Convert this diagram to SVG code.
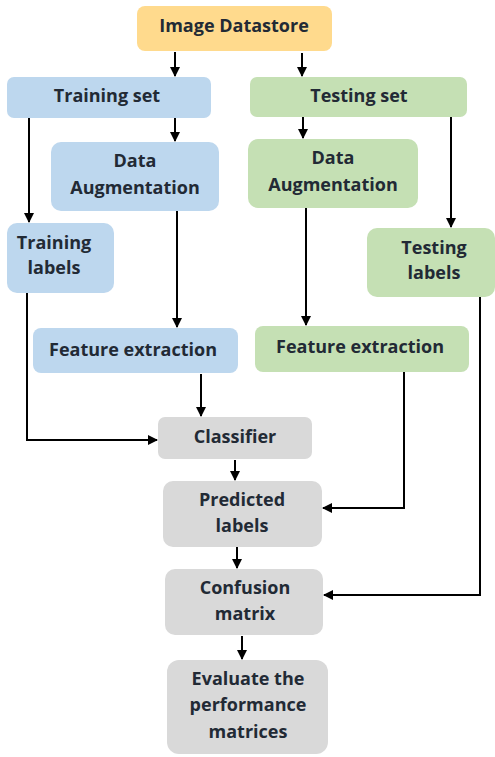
<svg xmlns="http://www.w3.org/2000/svg" width="495" height="757" viewBox="0 0 495 757">
<style>
.t{font-family:"Open Sans","Liberation Sans",sans-serif;font-weight:bold;font-size:18px;fill:#222a35;text-anchor:middle}
.y{fill:#ffda8d}.b{fill:#bdd7ee}.g{fill:#c5e0b4}.k{fill:#d9d9d9}
.c{fill:none;stroke:#000;stroke-width:2}
</style>
<defs>
<marker id="a" viewBox="0 0 10 10" refX="9" refY="5" markerWidth="5" markerHeight="5" orient="auto" markerUnits="strokeWidth">
<path d="M0,0L10,5L0,10z" fill="#000"/>
</marker>
</defs>
<rect width="495" height="757" fill="#fff"/>
<g id="datastore"><rect class="y" x="137" y="6" width="195" height="45" rx="8"/><text class="t" x="234" y="32">Image Datastore</text></g>
<g id="training-set"><rect class="b" x="7" y="77" width="204" height="41" rx="7"/><text class="t" x="107" y="102">Training set</text></g>
<g id="testing-set"><rect class="g" x="250" y="77" width="217" height="40" rx="7"/><text class="t" x="359" y="102">Testing set</text></g>
<g id="aug-train"><rect class="b" x="51" y="142" width="168" height="69" rx="10"/><text class="t" x="135" y="167">Data</text><text class="t" x="135" y="194">Augmentation</text></g>
<g id="aug-test"><rect class="g" x="248" y="139" width="170" height="69" rx="10"/><text class="t" x="333" y="164">Data</text><text class="t" x="333" y="191">Augmentation</text></g>
<g id="train-labels"><rect class="b" x="7" y="223" width="107" height="70" rx="10"/><text class="t" x="54" y="249">Training</text><text class="t" x="54" y="274">labels</text></g>
<g id="test-labels"><rect class="g" x="367" y="228" width="128" height="69" rx="10"/><text class="t" x="434" y="254">Testing</text><text class="t" x="434" y="279">labels</text></g>
<g id="fe-train"><rect class="b" x="33" y="328" width="205" height="45" rx="8"/><text class="t" x="133" y="356">Feature extraction</text></g>
<g id="fe-test"><rect class="g" x="255" y="326" width="214" height="46" rx="8"/><text class="t" x="360" y="353">Feature extraction</text></g>
<g id="classifier"><rect class="k" x="158" y="417" width="154" height="42" rx="7"/><text class="t" x="235" y="443">Classifier</text></g>
<g id="predicted"><rect class="k" x="163" y="481" width="159" height="66" rx="10"/><text class="t" x="242" y="506">Predicted</text><text class="t" x="242" y="532">labels</text></g>
<g id="confusion"><rect class="k" x="165" y="569" width="158" height="66" rx="10"/><text class="t" x="245" y="594">Confusion</text><text class="t" x="245" y="620">matrix</text></g>
<g id="evaluate"><rect class="k" x="167" y="660" width="161" height="94" rx="12"/><text class="t" x="248" y="685">Evaluate the</text><text class="t" x="248" y="711">performance</text><text class="t" x="248" y="738">matrices</text></g>
<g id="connectors">
<path class="c" d="M175,52V76" marker-end="url(#a)"/>
<path class="c" d="M302,53V76" marker-end="url(#a)"/>
<path class="c" d="M175,118V141" marker-end="url(#a)"/>
<path class="c" d="M303,117V138" marker-end="url(#a)"/>
<path class="c" d="M29,118V222" marker-end="url(#a)"/>
<path class="c" d="M451,117V227" marker-end="url(#a)"/>
<path class="c" d="M177,211V327" marker-end="url(#a)"/>
<path class="c" d="M306,208V325" marker-end="url(#a)"/>
<path class="c" d="M201,374V416" marker-end="url(#a)"/>
<path class="c" d="M27,293V440H157" marker-end="url(#a)"/>
<path class="c" d="M235,460V480" marker-end="url(#a)"/>
<path class="c" d="M404,372V508H323" marker-end="url(#a)"/>
<path class="c" d="M237,547V568" marker-end="url(#a)"/>
<path class="c" d="M480,297V595H324" marker-end="url(#a)"/>
<path class="c" d="M242,636V659" marker-end="url(#a)"/>
</g>
</svg>
